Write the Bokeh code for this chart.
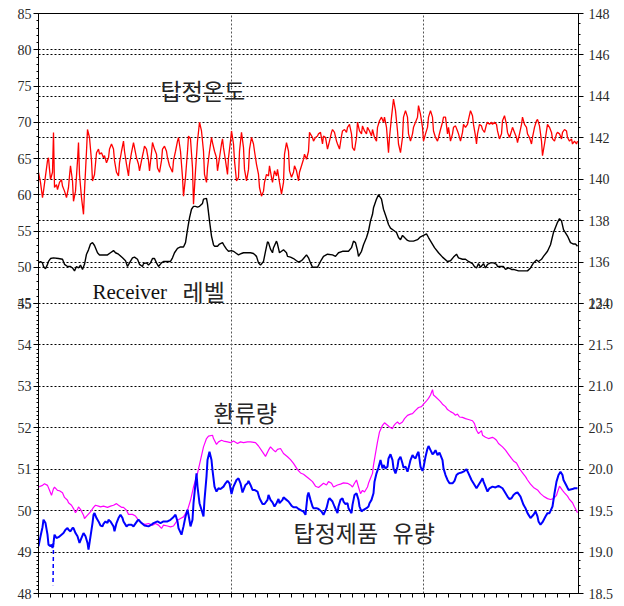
from bokeh.plotting import figure
from bokeh.models import Range1d, LinearAxis, FixedTicker, CustomJSTickFormatter, Grid
from bokeh.core.properties import value
from bokeh.embed import file_html
from bokeh.resources import INLINE

# ---------------- data (x = time index) ----------------
temp_x = [0, 2, 4, 5, 7, 9, 10, 11, 12, 14,
          15, 16, 18, 19, 21, 23, 24, 26, 28, 30,
          31, 32, 34, 35, 37, 39, 40, 41, 43, 45,
          46, 48, 49, 51, 53, 54, 56, 58, 60, 61,
          63, 65, 66, 68, 70, 71, 73, 75, 76, 78,
          80, 81, 83, 85, 86, 88, 90, 91, 93, 95,
          96, 98, 100, 101, 103, 105, 106, 108, 110, 111,
          113, 114, 116, 118, 119, 121, 123, 124, 126, 128,
          129, 131, 134, 135, 137, 139, 140, 142, 144, 145,
          147, 149, 150, 152, 154, 155, 157, 159, 161, 163,
          165, 166, 168, 169, 171, 173, 174, 176, 178, 179,
          181, 183, 184, 185, 187, 189, 190, 192, 193, 195,
          196, 198, 200, 201, 203, 205, 206, 208, 210, 211,
          213, 215, 216, 218, 220, 221, 223, 225, 226, 228,
          230, 231, 233, 234, 236, 238, 239, 241, 243, 245,
          246, 248, 250, 251, 253, 255, 256, 258, 260, 261,
          263, 265, 266, 268, 270, 271, 274, 275, 277, 279,
          280, 282, 284, 285, 287, 289, 291, 293, 294, 296,
          298, 299, 301, 303, 304, 306, 308, 309, 311, 313,
          314, 316, 318, 319, 321, 323, 324, 326, 328, 329,
          331, 333, 334, 336, 338, 339, 341, 343, 345, 346,
          348, 350, 351, 353, 355, 357, 359, 360, 362, 364,
          365, 367, 369, 370, 372, 374, 375, 377, 379, 380,
          382, 384, 385, 387, 389, 390, 392, 394, 395, 397,
          399, 400, 402, 404, 405, 407, 409, 410, 412, 414,
          415, 417, 419, 420, 422, 424, 425, 427, 429, 430,
          432, 434, 435, 437, 438, 439, 441, 443, 444, 446,
          448, 449, 451, 453, 454, 456, 458, 459, 461, 463,
          464, 466, 468, 469, 471, 473, 474, 476, 478, 479,
          481, 483, 484, 486, 488, 489, 491, 493, 494, 496,
          498, 499, 501, 503, 504, 506, 508, 509, 511, 513,
          514, 516, 518, 519, 521, 523, 524, 526, 528, 529,
          531, 533, 534, 536, 538, 539]
temp_y = [63.1, 61.7, 59.6, 60.5, 62.6, 64.7, 65.1, 63.5, 62.1, 63.1,
          68.6, 61.0, 61.4, 60.7, 61.7, 62.1, 61.2, 60.5, 59.6, 61.0,
          62.6, 64.0, 61.9, 59.1, 60.5, 64.7, 67.2, 62.8, 59.6, 57.3,
          60.5, 66.0, 69.0, 67.9, 64.7, 61.9, 62.8, 65.8, 66.3, 65.6,
          65.8, 65.1, 65.4, 64.4, 65.1, 66.3, 67.0, 66.3, 64.7, 63.1,
          62.6, 64.4, 66.0, 67.4, 66.0, 64.2, 62.6, 64.2, 65.8, 67.2,
          66.5, 65.1, 64.2, 63.3, 64.7, 66.0, 66.7, 66.3, 64.7, 63.3,
          65.8, 67.2, 66.3, 65.6, 63.7, 63.1, 64.7, 66.3, 66.7, 66.0,
          65.1, 64.0, 63.1, 64.7, 66.0, 67.4, 67.9, 66.0, 62.4, 59.8,
          62.4, 66.0, 68.1, 67.7, 63.7, 58.7, 63.3, 67.4, 70.0, 68.8,
          66.0, 62.8, 61.7, 63.7, 66.0, 67.9, 67.2, 66.0, 65.1, 63.3,
          65.1, 67.0, 67.7, 66.5, 64.7, 62.8, 65.1, 67.4, 68.8, 67.0,
          64.7, 61.9, 62.4, 66.0, 68.6, 66.5, 63.5, 61.9, 63.5, 66.3,
          67.9, 67.0, 66.0, 64.2, 62.8, 61.0, 59.8, 60.5, 61.7, 62.8,
          62.6, 64.0, 62.4, 61.7, 63.3, 62.6, 63.5, 61.7, 60.1, 61.7,
          65.6, 67.2, 66.0, 63.3, 62.4, 63.1, 64.0, 63.3, 61.9, 63.1,
          64.0, 64.9, 65.6, 64.9, 66.0, 68.6, 67.9, 67.4, 67.9, 68.1,
          68.4, 68.6, 67.0, 68.1, 67.9, 66.3, 67.4, 68.6, 69.0, 68.6,
          67.4, 67.0, 66.3, 68.1, 68.8, 69.0, 68.6, 69.3, 69.7, 68.4,
          66.5, 66.1, 67.9, 70.0, 68.8, 68.4, 69.5, 68.8, 68.4, 69.3,
          68.8, 68.1, 69.0, 67.9, 67.4, 69.3, 70.2, 70.7, 70.0, 70.7,
          69.3, 65.8, 67.9, 70.7, 73.2, 71.6, 68.8, 67.0, 65.8, 67.9,
          70.7, 71.6, 70.7, 68.4, 67.4, 68.4, 69.3, 70.0, 70.7, 72.3,
          71.1, 69.3, 67.4, 68.4, 69.3, 70.7, 71.6, 70.7, 68.8, 67.9,
          67.4, 67.9, 69.0, 70.0, 70.7, 70.7, 68.4, 69.3, 67.4, 68.4,
          69.3, 69.5, 68.8, 68.4, 67.4, 68.6, 69.7, 69.3, 69.7, 70.4,
          71.6, 70.9, 69.7, 68.1, 67.0, 68.4, 69.7, 69.5, 69.0, 68.6,
          69.7, 70.0, 69.7, 70.0, 69.7, 70.0, 69.7, 68.8, 67.7, 68.4,
          70.2, 70.9, 69.7, 68.6, 67.9, 68.8, 69.3, 68.6, 67.9, 67.2,
          68.4, 69.7, 70.7, 69.7, 69.3, 68.4, 67.9, 67.0, 67.9, 69.3,
          70.2, 70.4, 69.5, 67.4, 65.4, 67.0, 68.8, 69.7, 69.3, 68.6,
          67.7, 67.4, 68.4, 68.6, 68.4, 67.7, 68.6, 69.0, 68.8, 67.9,
          67.4, 67.7, 67.0, 67.4, 67.0, 67.4]

level_x = [0, 2, 4, 5, 7, 9, 10, 12, 15, 20,
           24, 26, 29, 32, 34, 36, 38, 40, 42, 44,
           46, 48, 50, 52, 54, 56, 59, 61, 64, 69,
           72, 75, 77, 80, 84, 87, 89, 91, 94, 96,
           99, 101, 104, 105, 108, 110, 112, 114, 116, 118,
           120, 123, 125, 129, 132, 134, 136, 139, 142, 145,
           147, 149, 151, 153, 155, 157, 159, 161, 164, 165,
           168, 169, 171, 173, 175, 176, 179, 181, 184, 186,
           188, 190, 193, 195, 198, 200, 203, 205, 212, 215,
           218, 220, 222, 225, 227, 229, 230, 232, 234, 235,
           238, 239, 241, 243, 245, 248, 249, 252, 255, 258,
           260, 263, 265, 268, 270, 272, 274, 279, 282, 285,
           289, 294, 297, 300, 304, 307, 310, 313, 315, 317,
           319, 320, 323, 325, 328, 330, 332, 334, 335, 338,
           340, 343, 345, 348, 350, 352, 355, 358, 360, 362,
           364, 366, 369, 371, 375, 379, 382, 385, 388, 390,
           393, 396, 400, 404, 409, 412, 415, 418, 420, 424,
           427, 430, 434, 436, 438, 440, 442, 445, 447, 449,
           452, 455, 458, 459, 462, 465, 467, 470, 473, 475,
           480, 485, 489, 492, 495, 498, 500, 503, 505, 509,
           512, 515, 519, 521, 523, 525, 529, 532, 535, 537,
           539]
level_y = [50.6, 50.8, 50.6, 50.1, 49.8, 50.4, 50.8, 51.2, 51.3, 51.2,
           51.1, 50.4, 50.1, 50.1, 49.9, 49.5, 50.1, 49.9, 50.3, 49.7,
           50.4, 51.8, 52.4, 53.2, 53.4, 53.0, 52.0, 51.7, 51.7, 51.7,
           52.0, 52.3, 52.0, 51.8, 51.3, 50.9, 50.1, 50.6, 51.3, 51.4,
           51.1, 50.4, 50.1, 50.5, 50.6, 50.3, 50.6, 51.2, 51.2, 50.6,
           50.1, 50.6, 50.8, 50.8, 50.8, 51.3, 52.0, 52.6, 52.8, 52.8,
           53.4, 55.2, 56.8, 58.0, 58.4, 58.4, 58.3, 58.4, 58.8, 59.4,
           59.5, 58.7, 56.4, 54.3, 53.1, 52.9, 52.9, 53.2, 53.4, 52.9,
           52.5, 52.2, 52.3, 52.2, 51.9, 51.7, 51.9, 52.0, 52.0, 51.9,
           51.5, 50.6, 50.3, 50.8, 52.2, 53.5, 53.4, 52.5, 52.0, 52.7,
           53.6, 53.2, 52.0, 52.2, 52.4, 52.0, 51.5, 51.4, 51.2, 50.9,
           50.7, 50.9, 51.2, 51.7, 51.3, 50.6, 50.0, 50.0, 50.8, 51.5,
           51.8, 51.7, 51.5, 52.0, 52.2, 52.2, 52.2, 52.7, 53.6, 53.4,
           52.3, 51.5, 52.2, 53.1, 54.1, 55.0, 56.4, 57.3, 58.2, 59.4,
           60.0, 59.4, 58.0, 56.8, 55.9, 55.4, 55.1, 54.8, 54.1, 53.8,
           54.4, 54.1, 53.7, 53.6, 53.6, 53.8, 54.2, 54.4, 54.6, 54.1,
           53.4, 52.7, 52.0, 51.4, 50.8, 50.9, 51.4, 51.8, 51.3, 51.1,
           51.1, 50.8, 50.5, 50.1, 49.9, 50.5, 50.0, 50.5, 49.9, 50.4,
           50.6, 50.6, 50.4, 50.1, 50.1, 50.1, 49.7, 49.9, 49.7, 49.7,
           49.5, 49.5, 49.5, 49.9, 50.6, 51.0, 50.8, 51.1, 51.5, 52.2,
           53.1, 54.8, 56.2, 56.7, 56.4, 55.2, 54.3, 53.4, 53.2, 53.2,
           52.9]

reflux_x = [0, 4, 6, 9, 11, 13, 15, 16, 19, 21,
            24, 26, 29, 30, 33, 35, 37, 39, 40, 42,
            45, 46, 49, 52, 55, 57, 60, 62, 65, 69,
            72, 75, 78, 80, 83, 85, 88, 90, 94, 97,
            100, 104, 107, 110, 114, 117, 120, 123, 125, 129,
            132, 135, 139, 142, 145, 149, 152, 155, 159, 162,
            165, 168, 170, 174, 175, 178, 180, 183, 185, 189,
            192, 195, 199, 202, 205, 209, 212, 217, 220, 224,
            227, 230, 232, 235, 237, 239, 242, 245, 249, 252,
            255, 259, 262, 265, 270, 274, 277, 280, 283, 285,
            288, 290, 293, 295, 299, 302, 305, 309, 312, 314,
            316, 318, 320, 322, 324, 326, 329, 330, 332, 334,
            335, 337, 339, 341, 344, 346, 349, 351, 354, 355,
            357, 359, 361, 364, 366, 369, 372, 374, 377, 380,
            383, 385, 388, 390, 392, 394, 395, 397, 400, 402,
            404, 407, 409, 412, 415, 417, 419, 421, 424, 427,
            430, 434, 436, 438, 440, 443, 444, 447, 450, 454,
            456, 458, 460, 464, 467, 470, 473, 475, 478, 480,
            482, 485, 487, 489, 492, 495, 499, 502, 505, 509,
            512, 515, 518, 519, 521, 524, 526, 529, 531, 534,
            536, 539]
reflux_y = [50.57, 50.61, 50.65, 50.61, 50.49, 50.37, 50.53, 50.57, 50.49, 50.48,
            50.43, 50.32, 50.25, 50.19, 50.13, 50.05, 49.95, 50.03, 50.09, 50.03,
            49.89, 49.81, 49.89, 49.97, 50.08, 50.13, 50.11, 50.09, 50.11, 50.08,
            50.11, 50.13, 50.17, 50.13, 50.08, 50.08, 50.01, 49.91, 49.91, 49.87,
            49.77, 49.69, 49.67, 49.69, 49.65, 49.69, 49.65, 49.57, 49.65, 49.63,
            49.61, 49.63, 49.77, 49.81, 49.85, 50.01, 50.25, 50.57, 50.90, 51.22,
            51.54, 51.74, 51.80, 51.82, 51.74, 51.60, 51.66, 51.70, 51.68, 51.66,
            51.64, 51.68, 51.62, 51.66, 51.64, 51.66, 51.66, 51.64, 51.56, 51.42,
            51.31, 51.46, 51.54, 51.46, 51.42, 51.48, 51.50, 51.38, 51.30, 51.23,
            51.14, 50.99, 50.91, 50.88, 50.78, 50.70, 50.59, 50.56, 50.62, 50.66,
            50.62, 50.70, 50.66, 50.57, 50.62, 50.64, 50.67, 50.66, 50.62, 50.57,
            50.66, 50.74, 50.57, 50.41, 50.49, 50.45, 50.57, 50.66, 50.78, 50.90,
            51.10, 51.38, 51.66, 51.90, 52.06, 52.12, 52.06, 52.02, 51.98, 52.04,
            52.10, 52.14, 52.09, 52.14, 52.22, 52.30, 52.33, 52.34, 52.42, 52.49,
            52.51, 52.57, 52.65, 52.71, 52.79, 52.92, 52.79, 52.75, 52.68, 52.63,
            52.57, 52.51, 52.44, 52.39, 52.35, 52.30, 52.33, 52.26, 52.25, 52.22,
            52.20, 52.17, 52.10, 51.94, 51.86, 51.93, 51.82, 51.77, 51.74, 51.77,
            51.74, 51.70, 51.62, 51.54, 51.46, 51.36, 51.26, 51.20, 51.15, 51.06,
            50.98, 50.88, 50.82, 50.74, 50.64, 50.56, 50.50, 50.41, 50.35, 50.29,
            50.27, 50.29, 50.37, 50.45, 50.59, 50.49, 50.43, 50.35, 50.27, 50.19,
            50.09, 49.95]

product_x = [0, 2, 4, 5, 7, 9, 10, 12, 13, 14,
             15, 16, 18, 20, 23, 25, 27, 29, 30, 32,
             34, 35, 37, 39, 41, 43, 45, 47, 49, 50,
             52, 54, 55, 56, 58, 60, 62, 64, 65, 67,
             69, 70, 72, 74, 75, 76, 78, 80, 82, 84,
             85, 88, 90, 93, 95, 99, 100, 103, 106, 110,
             113, 115, 119, 122, 125, 129, 132, 134, 137, 139,
             140, 143, 145, 147, 149, 150, 152, 154, 155, 157,
             158, 159, 161, 163, 165, 166, 168, 169, 171, 173,
             174, 176, 178, 180, 182, 185, 187, 189, 191, 193,
             195, 198, 200, 202, 204, 205, 207, 209, 210, 212,
             214, 216, 219, 221, 224, 226, 229, 230, 232, 234,
             236, 238, 240, 241, 244, 245, 248, 250, 253, 255,
             258, 260, 263, 265, 267, 269, 270, 272, 274, 275,
             278, 280, 283, 285, 288, 290, 291, 294, 296, 299,
             300, 302, 304, 305, 307, 309, 310, 313, 314, 316,
             318, 320, 321, 323, 325, 328, 330, 331, 333, 335,
             336, 338, 340, 342, 344, 345, 347, 349, 350, 352,
             354, 355, 357, 359, 360, 362, 364, 365, 367, 369,
             370, 372, 374, 375, 377, 379, 380, 382, 384, 385,
             387, 389, 390, 392, 394, 395, 397, 399, 401, 404,
             405, 407, 409, 411, 414, 416, 418, 420, 423, 425,
             428, 430, 433, 435, 438, 440, 442, 444, 445, 447,
             449, 451, 454, 457, 460, 464, 466, 469, 471, 473,
             475, 477, 479, 482, 485, 487, 489, 492, 495, 497,
             499, 500, 502, 504, 507, 509, 511, 514, 516, 518,
             520, 522, 524, 525, 528, 530, 534, 536, 539]
product_y = [19.07, 19.19, 19.30, 19.39, 19.35, 19.21, 19.09, 19.07, 19.09, 19.05,
             19.11, 19.21, 19.17, 19.18, 19.21, 19.23, 19.27, 19.29, 19.27, 19.25,
             19.29, 19.29, 19.23, 19.19, 19.11, 19.17, 19.23, 19.19, 19.11, 19.03,
             19.19, 19.35, 19.45, 19.47, 19.41, 19.37, 19.32, 19.31, 19.34, 19.37,
             19.35, 19.39, 19.37, 19.33, 19.31, 19.25, 19.35, 19.41, 19.45, 19.41,
             19.37, 19.31, 19.33, 19.33, 19.31, 19.38, 19.39, 19.35, 19.32, 19.31,
             19.33, 19.35, 19.37, 19.35, 19.37, 19.37, 19.39, 19.41, 19.45, 19.37,
             19.29, 19.21, 19.31, 19.43, 19.51, 19.45, 19.31, 19.39, 19.59, 19.83,
             19.95, 19.79, 19.59, 19.51, 19.43, 19.63, 19.91, 20.11, 20.21, 20.11,
             19.99, 19.79, 19.73, 19.77, 19.76, 19.79, 19.83, 19.86, 19.83, 19.70,
             19.79, 19.87, 19.89, 19.83, 19.72, 19.75, 19.81, 19.83, 19.86, 19.81,
             19.75, 19.75, 19.73, 19.65, 19.58, 19.58, 19.63, 19.69, 19.63, 19.60,
             19.55, 19.59, 19.64, 19.59, 19.63, 19.66, 19.63, 19.61, 19.56, 19.54,
             19.54, 19.52, 19.50, 19.49, 19.45, 19.68, 19.72, 19.63, 19.55, 19.53,
             19.53, 19.52, 19.49, 19.45, 19.53, 19.63, 19.65, 19.61, 19.55, 19.47,
             19.55, 19.63, 19.65, 19.61, 19.58, 19.59, 19.53, 19.47, 19.57, 19.69,
             19.71, 19.63, 19.55, 19.49, 19.51, 19.53, 19.55, 19.59, 19.63, 19.71,
             19.85, 19.95, 20.02, 20.11, 20.01, 20.05, 20.01, 20.03, 20.13, 20.18,
             20.11, 20.01, 19.95, 20.03, 20.11, 20.15, 20.07, 20.02, 20.03, 19.97,
             20.01, 20.11, 20.17, 20.15, 20.13, 20.19, 20.21, 20.03, 19.98, 20.02,
             20.15, 20.25, 20.28, 20.23, 20.18, 20.19, 20.23, 20.17, 20.20, 20.11,
             20.01, 19.93, 19.87, 19.83, 19.83, 19.86, 19.93, 19.95, 19.96, 19.97,
             20.00, 19.95, 19.87, 19.83, 19.77, 19.81, 19.85, 19.89, 19.85, 19.79,
             19.73, 19.77, 19.79, 19.78, 19.80, 19.77, 19.73, 19.67, 19.64, 19.65,
             19.69, 19.71, 19.72, 19.67, 19.57, 19.53, 19.47, 19.41, 19.45, 19.49,
             19.43, 19.37, 19.33, 19.36, 19.43, 19.47, 19.47, 19.55, 19.71, 19.85,
             19.93, 19.97, 19.93, 19.87, 19.80, 19.75, 19.76, 19.77, 19.77]

# short sensor drop-out of the product flow (drawn dashed)
product_drop_x = [15, 14.5]
product_drop_y = [19.11, 18.60]

# tick labels of the four scales
top_left_ticks = [45, 50, 55, 60, 65, 70, 75, 80, 85]
top_right_ticks = [134, 136, 138, 140, 142, 144, 146, 148]
bottom_left_ticks = [48, 49, 50, 51, 52, 53, 54, 55]
bottom_right_ticks = [18.5, 19.0, 19.5, 20.0, 20.5, 21.0, 21.5, 22.0]

# ---------------- scales ----------------
# normalised frame: bottom panel spans 0..1, top panel spans 1..2
TL_LO, TL_HI = 45, 85
TR_LO, TR_HI = 134, 148
BL_LO, BL_HI = 48, 55
BR_LO, BR_HI = 18.5, 22.0


def n_tl(v):
    return 1 + (v - TL_LO) / (TL_HI - TL_LO)


def n_tr(v):
    return 1 + (v - TR_LO) / (TR_HI - TR_LO)


def n_bl(v):
    return (v - BL_LO) / (BL_HI - BL_LO)


def n_br(v):
    return (v - BR_LO) / (BR_HI - BR_LO)


p = figure(frame_width=540, frame_height=580,
           x_range=Range1d(0, 540), y_range=Range1d(0, 2),
           output_backend="svg", toolbar_location=None,
           min_border_left=38, min_border_right=40,
           min_border_top=13, min_border_bottom=12,
           background_fill_color="white", border_fill_color="white",
           outline_line_color="black", outline_line_width=1)

p.extra_y_ranges = {
    "tl": Range1d(TL_LO - (TL_HI - TL_LO), TL_HI),
    "bl": Range1d(BL_LO, BL_HI + (BL_HI - BL_LO)),
    "br": Range1d(BR_LO, BR_HI + (BR_HI - BR_LO)),
}

p.grid.visible = False

AX_FONT = "Liberation Sans Narrow"
AX_COLOR = "#2a2a2a"

JS_LOOKUP = """
let best = 0, bd = Infinity;
for (let i = 0; i < pos.length; i++) { const d = Math.abs(pos[i] - tick); if (d < bd) { bd = d; best = i; } }
return labs[best];
"""

# left axis (both panels)
left_pos = [n_bl(v) for v in bottom_left_ticks] + [n_tl(v) + (1e-7 if v == TL_LO else 0) for v in top_left_ticks]
left_lab = ["%g" % v for v in bottom_left_ticks] + ["%g" % v for v in top_left_ticks]
left_minor = [n_bl(BL_LO + 0.1 * i) for i in range(71)] + [n_tl(TL_LO + i) for i in range(41)]

yl = p.yaxis[0]
yl.ticker = FixedTicker(ticks=left_pos, minor_ticks=left_minor)
yl.formatter = CustomJSTickFormatter(args=dict(pos=left_pos, labs=left_lab), code=JS_LOOKUP)

# right axis (both panels)
right_pos = [n_br(v) for v in bottom_right_ticks] + [n_tr(v) + (1e-7 if v == TR_LO else 0) for v in top_right_ticks]
right_lab = ["%.1f" % v for v in bottom_right_ticks] + ["%d" % v for v in top_right_ticks]
right_minor = [n_br(BR_LO + 0.1 * i) for i in range(36)] + [n_tr(TR_LO + 0.5 * i) for i in range(29)]
yr = LinearAxis(ticker=FixedTicker(ticks=right_pos, minor_ticks=right_minor),
                formatter=CustomJSTickFormatter(args=dict(pos=right_pos, labs=right_lab), code=JS_LOOKUP))
p.add_layout(yr, "right")

for ax, standoff in ((yl, 2), (yr, 5)):
    ax.axis_line_color = "black"
    ax.major_tick_line_color = "black"
    ax.minor_tick_line_color = "black"
    ax.major_tick_in = 0
    ax.major_tick_out = 5
    ax.minor_tick_in = 0
    ax.minor_tick_out = 2
    ax.major_label_text_font = AX_FONT
    ax.major_label_text_font_size = "14px"
    ax.major_label_text_color = AX_COLOR
    ax.major_label_standoff = standoff

# x axis: unlabeled ticks only
x_major = [193, 385]
x_minor = [i * 193 / 16 for i in range(45)]
xa = p.xaxis[0]
xa.ticker = FixedTicker(ticks=[], minor_ticks=x_minor)
xa.minor_tick_in = 0
xa.minor_tick_out = 4
xa.minor_tick_line_color = "black"
xa.axis_line_color = "black"

# dotted grid lines
grid_pos = sorted(set(
    [n_tl(v) for v in top_left_ticks if v != TL_HI] +
    [n_tr(v) for v in top_right_ticks if v != TR_HI] +
    [n_bl(v) for v in bottom_left_ticks if v != BL_LO]))
p.add_layout(Grid(dimension=1, ticker=FixedTicker(ticks=grid_pos),
                  grid_line_color="black", grid_line_dash="2 2", grid_line_width=1))
p.add_layout(Grid(dimension=0, ticker=FixedTicker(ticks=x_major),
                  grid_line_color="#555555", grid_line_dash="2 2", grid_line_width=1))

# ---------------- series ----------------
p.line(level_x, level_y, y_range_name="tl", line_color="black", line_width=1.4)
p.line(temp_x, temp_y, y_range_name="tl", line_color="#ff0000", line_width=1.3)
p.line(reflux_x, reflux_y, y_range_name="bl", line_color="#ff00ff", line_width=1.2)
p.line(product_x, product_y, y_range_name="br", line_color="#0000ff", line_width=2)
p.line(product_drop_x, product_drop_y, y_range_name="br", line_color="#0000ff",
       line_width=1.5, line_dash="4 3")

# ---------------- labels ----------------
KR = value("Noto Sans CJK KR")
p.text(x=[122], y=[74.4], text=["탑정온도"], y_range_name="tl", text_font=KR,
       text_font_size="23px", text_color="#262626", text_baseline="alphabetic")
p.text(x=[54], y=[46.55], text=["Receiver"], y_range_name="tl",
       text_font=value("Liberation Serif"), text_font_size="21px",
       text_color="#111111", text_baseline="alphabetic")
p.text(x=[144], y=[46.75], text=["레벨"], y_range_name="tl", text_font=KR,
       text_font_size="23px", text_color="#262626", text_baseline="alphabetic")
p.text(x=[175], y=[52.39], text=["환류량"], y_range_name="bl", text_font=KR,
       text_font_size="23px", text_color="#262626", text_baseline="alphabetic")
p.text(x=[255], y=[49.49], text=["탑정제품"], y_range_name="bl", text_font=KR,
       text_font_size="23px", text_color="#262626", text_baseline="alphabetic")
p.text(x=[354], y=[49.49], text=["유량"], y_range_name="bl", text_font=KR,
       text_font_size="23px", text_color="#262626", text_baseline="alphabetic")

open("out.html", "w").write(file_html(p, INLINE))
